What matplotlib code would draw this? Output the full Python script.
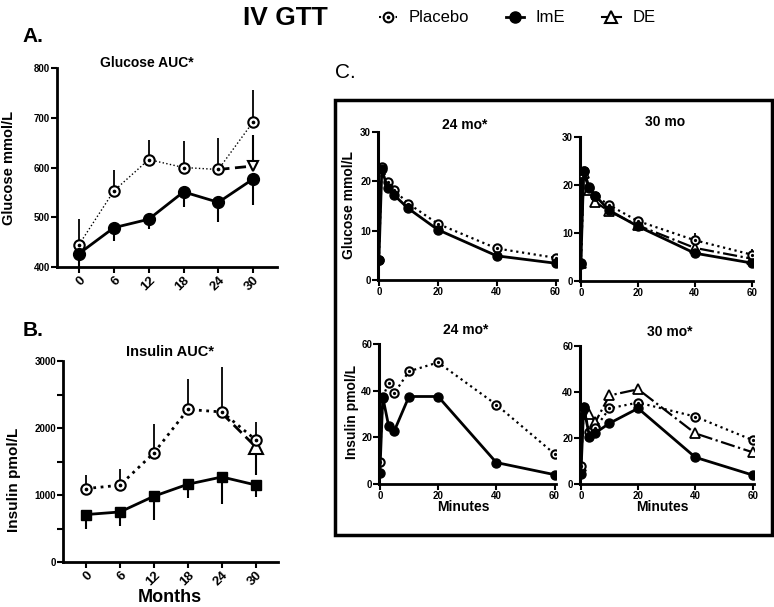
import numpy as np
import matplotlib
matplotlib.use("Agg")
import matplotlib.pyplot as plt
from matplotlib.lines import Line2D
from matplotlib.patches import Rectangle

plt.rcParams['font.family'] = ['Liberation Sans', 'DejaVu Sans']

W, H = 774, 607
nan = np.nan

# ---- panels A / B: AUC by month ----
months = [0, 6, 12, 18, 24, 30]
glu_auc_placebo = [445, 553, 616, 600, 596, 692]
glu_auc_placebo_err = [51, 41, 39, 54, 63, 64]
glu_auc_ime = [427, 479, 496, 551, 530, 577]
glu_auc_ime_err = [32, 27, 19, 30, 39, 52]
glu_auc_de = [nan, nan, nan, nan, 596, 603]
glu_auc_de_err = [0, 0, 0, 0, 0, 63]

ins_auc_placebo = [1096, 1146, 1629, 2277, 2239, 1821]
ins_auc_placebo_err = [199, 249, 429, 453, 671, 269]
ins_auc_ime = [708, 747, 982, 1161, 1269, 1149]
ins_auc_ime_err = [210, 214, 359, 199, 403, 179]
ins_auc_de = [nan, nan, nan, nan, 2220, 1716]
ins_auc_de_err = [0, 0, 0, 0, 0, 418]

# ---- panel C: IV GTT time courses ----
minutes = [0, 1, 3, 5, 10, 20, 40, 60]
glu24_placebo = [4.1, 23.0, 19.8, 18.3, 15.5, 11.4, 6.4, 4.5]
glu24_ime = [4.0, 22.4, 18.6, 17.3, 14.5, 10.2, 4.9, 3.4]
glu30_placebo = [3.75, 23.0, 19.6, 17.8, 15.8, 12.5, 8.5, 5.5]
glu30_placebo_err = [0.3, 0.5, 0.5, 0.5, 0.5, 0.6, 1.4, 1.2]
glu30_ime = [3.6, 23.0, 19.4, 17.8, 14.7, 11.4, 5.8, 3.75]
glu30_de = [3.75, 22.4, 18.9, 16.5, 14.5, 11.6, 6.9, 4.65]

ins24_placebo = [9.6, 37.0, 43.5, 39.0, 48.3, 52.1, 34.0, 12.9]
ins24_ime = [4.8, 37.2, 25.0, 22.9, 37.5, 37.5, 9.2, 4.0]
ins30_placebo = [7.8, 33.0, 22.5, 24.2, 32.9, 35.4, 29.3, 19.1]
ins30_ime = [4.3, 33.5, 20.6, 22.2, 26.4, 32.9, 11.6, 3.9]
ins30_de = [7.8, 33.0, 30.5, 26.8, 38.5, 41.2, 22.0, 13.8]

fig = plt.figure(figsize=(W / 100, H / 100), dpi=100)


def px_axes(left, top, right, bottom):
    return fig.add_axes([left / W, 1 - bottom / H, (right - left) / W, (bottom - top) / H])


def px_text(x, y, s, **kw):
    kw.setdefault('ha', 'center')
    kw.setdefault('va', 'center')
    fig.text(x / W, 1 - y / H, s, **kw)


def prism_style(ax, tick_size=7):
    for side in ('top', 'right'):
        ax.spines[side].set_visible(False)
    for side in ('left', 'bottom'):
        ax.spines[side].set_linewidth(2)
    ax.tick_params(direction='out', length=4, width=1.5, labelsize=tick_size, pad=1)
    ax.tick_params(which='minor', direction='out', length=4, width=1.5)
    for lab in ax.get_xticklabels() + ax.get_yticklabels():
        lab.set_fontweight('bold')


def placebo(ax, x, y, ls=':', lw=1.0, ms=7, yerr=None):
    if yerr is not None:
        ax.errorbar(x, y, yerr=[np.zeros(len(y)), yerr], fmt='none', ecolor='black',
                    elinewidth=1.3, capsize=0, zorder=2)
    ax.plot(x, y, color='black', ls=ls, lw=lw, marker='o', ms=ms, mfc='white',
            mec='black', mew=1.5, zorder=4)
    ax.plot(x, y, ls='none', marker='o', ms=ms * 0.22, color='black', zorder=5)


# ---- A ----
axA = px_axes(57, 68, 277, 267)
axA.errorbar(months, glu_auc_ime, yerr=[glu_auc_ime_err, np.zeros(6)], fmt='none',
             ecolor='black', elinewidth=1.5, capsize=0, zorder=2)
axA.errorbar(months, glu_auc_de, yerr=[np.zeros(6), glu_auc_de_err], fmt='none',
             ecolor='black', elinewidth=1.5, capsize=0, zorder=2)
placebo(axA, months, glu_auc_placebo, lw=1.0, ms=7.5, yerr=glu_auc_placebo_err)
axA.plot(months, glu_auc_ime, color='black', lw=2, marker='o', ms=8.5, zorder=4)
axA.plot(months, glu_auc_de, color='black', ls=(0, (4, 2)), lw=2, marker='v', ms=7,
         markevery=[5], mfc='white', mec='black', mew=1.5, zorder=3)
axA.set_xlim(-3.8, 34.1)
axA.set_ylim(400, 800)
axA.set_xticks(months)
axA.set_xticklabels([str(m) for m in months], rotation=45, ha='right',
                    rotation_mode='anchor')
axA.set_yticks([400, 500, 600, 700, 800])
prism_style(axA, 7)
for lab in axA.get_xticklabels():
    lab.set_fontsize(9.5)

# ---- B ----
axB = px_axes(63, 361, 278, 562)
axB.errorbar(months, ins_auc_ime, yerr=[ins_auc_ime_err, np.zeros(6)], fmt='none',
             ecolor='black', elinewidth=1.5, capsize=0, zorder=2)
axB.errorbar(months, ins_auc_de, yerr=[ins_auc_de_err, np.zeros(6)], fmt='none',
             ecolor='black', elinewidth=1.5, capsize=0, zorder=2)
placebo(axB, months, ins_auc_placebo, lw=2, ms=7.5, yerr=ins_auc_placebo_err)
axB.plot(months, ins_auc_ime, color='black', lw=2, marker='s', ms=7.5, zorder=4)
axB.plot(months, ins_auc_de, color='black', ls=(0, (4, 2)), lw=2, marker='^', ms=10,
         markevery=[5], mfc='white', mec='black', mew=1.5, zorder=3)
axB.set_xlim(-4.06, 33.9)
axB.set_ylim(0, 3000)
axB.set_xticks(months)
axB.set_xticklabels([str(m) for m in months], rotation=45, ha='right',
                    rotation_mode='anchor')
axB.set_yticks([0, 1000, 2000, 3000])
axB.set_yticks([500, 1500, 2500], minor=True)
prism_style(axB, 7)
for lab in axB.get_xticklabels():
    lab.set_fontsize(9.5)

# ---- C ----
def time_course(ax, ylim, yticks, plac, ime, de=None, plac_err=None):
    placebo(ax, minutes, plac, ls=':', lw=1.6, ms=6, yerr=plac_err)
    ax.plot(minutes, ime, color='black', lw=2, marker='o', ms=6.5, zorder=4)
    if de is not None:
        ax.plot(minutes, de, color='black', ls='-.', lw=1.6, marker='^', ms=6.5,
                mfc='white', mec='black', mew=1.3, zorder=3)
    ax.set_xlim(-0.3, 60.5)
    ax.set_ylim(*ylim)
    ax.set_xticks([0, 20, 40, 60])
    ax.set_yticks(yticks)
    prism_style(ax, 7)
    ax.spines['left'].set_linewidth(2.2)


axC1 = px_axes(378, 132, 557, 280)
time_course(axC1, (0, 30), [0, 10, 20, 30], glu24_placebo, glu24_ime)
axC2 = px_axes(580, 137, 753, 281)
time_course(axC2, (0, 30), [0, 10, 20, 30], glu30_placebo, glu30_ime, glu30_de,
            plac_err=glu30_placebo_err)
axC3 = px_axes(379, 344, 556, 484)
time_course(axC3, (0, 60), [0, 20, 40, 60], ins24_placebo, ins24_ime)
axC4 = px_axes(580, 346, 754, 484)
time_course(axC4, (0, 60), [0, 20, 40, 60], ins30_placebo, ins30_ime, ins30_de)

fig.add_artist(Rectangle((335 / W, 1 - 535 / H), (772 - 335) / W, (535 - 100) / H,
                         transform=fig.transFigure, fill=False, lw=2.5, ec='black'))

# ---- texts ----
px_text(285, 18, 'IV GTT', fontsize=19, fontweight='bold')
px_text(22, 37, 'A.', fontsize=15, fontweight='bold', ha='left')
px_text(23, 330, 'B.', fontsize=15, fontweight='bold', ha='left')
px_text(335, 73, 'C.', fontsize=15, ha='left')
px_text(147, 63, 'Glucose AUC*', fontsize=10, fontweight='bold')
px_text(170, 352, 'Insulin AUC*', fontsize=10.5, fontweight='bold')
px_text(9, 168, 'Glucose mmol/L', fontsize=10.5, fontweight='bold', rotation=90)
px_text(14, 480, 'Insulin pmol/L', fontsize=11, fontweight='bold', rotation=90)
px_text(170, 598, 'Months', fontsize=13, fontweight='bold')
px_text(465, 125, '24 mo*', fontsize=10, fontweight='bold')
px_text(665, 122, '30 mo', fontsize=10, fontweight='bold')
px_text(466, 330, '24 mo*', fontsize=10, fontweight='bold')
px_text(670, 332, '30 mo*', fontsize=10, fontweight='bold')
px_text(349, 205, 'Glucose mmol/L', fontsize=10, fontweight='bold', rotation=90)
px_text(352, 412, 'Insulin pmol/L', fontsize=10, fontweight='bold', rotation=90)
px_text(463, 507, 'Minutes', fontsize=10, fontweight='bold')
px_text(662, 507, 'Minutes', fontsize=10, fontweight='bold')

# ---- legend ----
h_plac = (Line2D([], [], color='black', ls=':', lw=1.5, marker='o', ms=7, mfc='white',
                 mec='black', mew=1.5),
          Line2D([], [], ls='none', marker='o', ms=1.6, color='black'))
h_ime = Line2D([], [], color='black', lw=2, marker='o', ms=8)
h_de = Line2D([], [], color='black', lw=1.5, marker='^', ms=9, mfc='white', mec='black',
              mew=1.5)
fig.legend([h_plac, h_ime, h_de], ['Placebo', 'ImE', 'DE'], loc='center',
           bbox_to_anchor=(517 / W, 1 - 18 / H), ncol=3, frameon=False, fontsize=12,
           handlelength=1.1, handletextpad=0.7, columnspacing=2.2)

fig.savefig('out.png', dpi=100)
